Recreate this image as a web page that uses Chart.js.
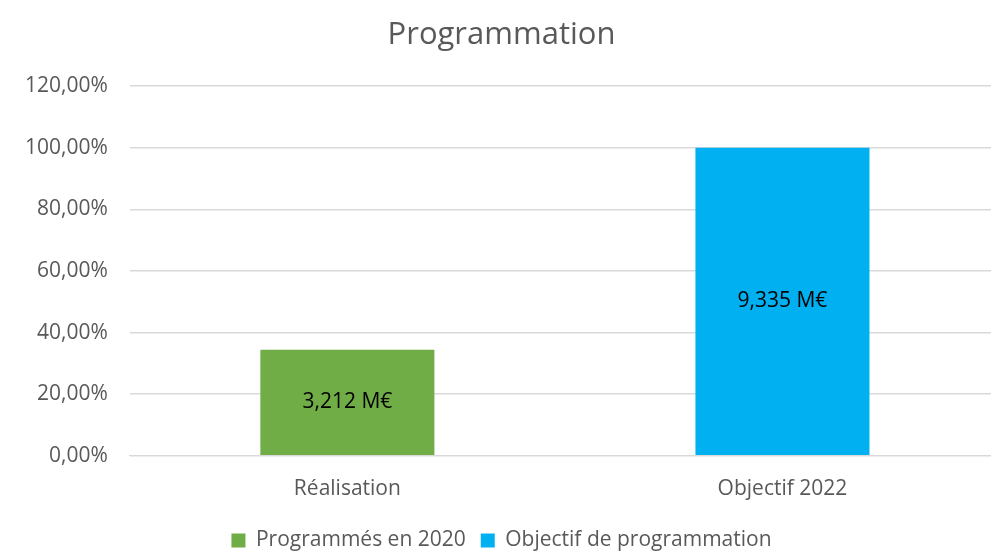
<!DOCTYPE html>
<html>
<head>
<meta charset="utf-8">
<script src="https://cdn.jsdelivr.net/npm/chart.js@4"></script>
<style>
html,body{margin:0;padding:0;background:#fff;overflow:hidden;width:991px;height:554px;}
#wrap{width:1040px;height:561px;position:relative;}
</style>
</head>
<body>
<div id="wrap"><canvas id="c"></canvas></div>
<script>
const categories = ["Réalisation", "Objectif 2022"];
const seriesNames = ["Programmés en 2020", "Objectif de programmation"];
const programmes2020 = [34.41, null];
const objectif = [null, 100];
const barLabels = [["3,212 M€", null], [null, "9,335 M€"]];
const yTicks = [0, 20, 40, 60, 80, 100, 120];

const FONT = "'Open Sans', 'Noto Sans', sans-serif";

const labelPlugin = {
  id: 'barLabels',
  afterDatasetsDraw(chart) {
    const ctx = chart.ctx;
    ctx.save();
    ctx.font = "21px " + FONT;
    ctx.fillStyle = "#000";
    ctx.textAlign = "center";
    ctx.textBaseline = "middle";
    chart.data.datasets.forEach((ds, di) => {
      const meta = chart.getDatasetMeta(di);
      meta.data.forEach((el, i) => {
        const t = barLabels[di][i];
        if (t == null || ds.data[i] == null) return;
        ctx.fillText(t, el.x, (el.y + el.base) / 2);
      });
    });
    ctx.restore();
  }
};

new Chart(document.getElementById('c'), {
  type: 'bar',
  data: {
    labels: categories,
    datasets: [
      { label: seriesNames[0], data: programmes2020, backgroundColor: '#70AD47' },
      { label: seriesNames[1], data: objectif, backgroundColor: '#00B0F0' }
    ]
  },
  options: {
    responsive: true,
    maintainAspectRatio: false,
    animation: false,
    layout: { padding: { left: 3, right: 40, top: 17, bottom: 0 } },
    datasets: { bar: { categoryPercentage: 1, barPercentage: 0.40 } },
    plugins: {
      title: {
        display: true, text: 'Programmation', color: '#595959',
        font: { family: FONT, size: 31, weight: 'normal' },
        padding: { top: 0, bottom: 32 }
      },
      legend: {
        position: 'bottom',
        labels: {
          color: '#595959', font: { family: FONT, size: 21 },
          boxWidth: 14, boxHeight: 14, padding: 15
        }
      },
      tooltip: { enabled: false }
    },
    scales: {
      x: {
        stacked: true,
        grid: { display: false },
        border: { color: '#d9d9d9' },
        ticks: { color: '#595959', font: { family: FONT, size: 21 }, padding: 13 }
      },
      y: {
        min: 0, max: 120,
        afterBuildTicks(axis) { axis.ticks = yTicks.map(v => ({ value: v })); },
        grid: { color: '#d9d9d9', lineWidth: 1.5, drawTicks: false },
        border: { display: false },
        ticks: {
          color: '#595959', font: { family: FONT, size: 21 }, padding: 22,
          callback: v => v.toFixed(2).replace('.', ',') + '%'
        }
      }
    }
  },
  plugins: [labelPlugin]
});
</script>
</body>
</html>
